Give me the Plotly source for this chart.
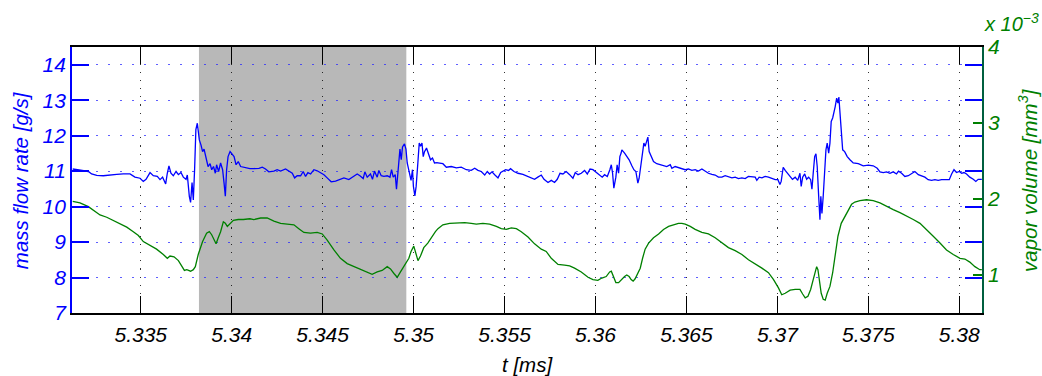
import plotly.graph_objects as go

# Time base of the mass flow signal [ms]
t_flow = [
    5.33126, 5.33148, 5.33184, 5.33212, 5.33230, 5.33258, 5.33294, 5.33331, 5.33368, 5.33404,
    5.33441, 5.33468, 5.33496, 5.33514, 5.33529, 5.33551, 5.33569, 5.33591, 5.33606, 5.33620,
    5.33637, 5.33646, 5.33655, 5.33666, 5.33679, 5.33694, 5.33707, 5.33721, 5.33734, 5.33749,
    5.33756, 5.33767, 5.33774, 5.33782, 5.33789, 5.33796, 5.33803, 5.33811, 5.33822, 5.33831,
    5.33840, 5.33848, 5.33859, 5.33870, 5.33881, 5.33890, 5.33900, 5.33910, 5.33917, 5.33928,
    5.33939, 5.33950, 5.33958, 5.33965, 5.33972, 5.33980, 5.33991, 5.34002, 5.34013, 5.34024,
    5.34036, 5.34049, 5.34064, 5.34082, 5.34100,
    5.34122, 5.34150, 5.34168, 5.34186, 5.34204, 5.34232, 5.34250, 5.34269, 5.34296, 5.34314,
    5.34333, 5.34346, 5.34360, 5.34379, 5.34393, 5.34406, 5.34419, 5.34434, 5.34452, 5.34470,
    5.34489, 5.34507, 5.34525, 5.34547, 5.34571, 5.34595, 5.34617, 5.34644, 5.34663, 5.34675,
    5.34690, 5.34705, 5.34723, 5.34732, 5.34745, 5.34763, 5.34774, 5.34785, 5.34800, 5.34809,
    5.34822, 5.34837, 5.34855, 5.34870, 5.34879, 5.34888, 5.34899, 5.34906, 5.34914, 5.34925,
    5.34932, 5.34939, 5.34950, 5.34958, 5.34965, 5.34972, 5.34980, 5.34986, 5.34994, 5.34999,
    5.35007, 5.35014, 5.35024, 5.35031, 5.35038, 5.35046, 5.35053, 5.35060, 5.35071, 5.35082,
    5.35093, 5.35104, 5.35115, 5.35130,
    5.35134, 5.35161, 5.35180, 5.35207, 5.35235, 5.35262, 5.35290, 5.35317, 5.35336, 5.35354,
    5.35372, 5.35391, 5.35405, 5.35418, 5.35431, 5.35446, 5.35464, 5.35479, 5.35491, 5.35506,
    5.35522, 5.35533, 5.35552, 5.35574, 5.35601, 5.35620, 5.35638, 5.35665, 5.35683, 5.35702,
    5.35717, 5.35739, 5.35757, 5.35775, 5.35790, 5.35805, 5.35821, 5.35839, 5.35858, 5.35876,
    5.35889, 5.35904, 5.35922, 5.35940, 5.35955, 5.35970, 5.35986, 5.36004, 5.36023, 5.36037,
    5.36050, 5.36065, 5.36079, 5.36087, 5.36094, 5.36101, 5.36112, 5.36119, 5.36127, 5.36134,
    5.36141,
    5.36145, 5.36160, 5.36172, 5.36185, 5.36200, 5.36211, 5.36222, 5.36233, 5.36240, 5.36251,
    5.36259, 5.36266, 5.36273, 5.36281, 5.36288, 5.36295, 5.36306, 5.36319, 5.36337, 5.36356,
    5.36374, 5.36392, 5.36411, 5.36420, 5.36438, 5.36456, 5.36475, 5.36493, 5.36511, 5.36530,
    5.36548, 5.36566, 5.36585, 5.36603, 5.36621, 5.36640, 5.36658, 5.36676, 5.36695, 5.36713,
    5.36731, 5.36750, 5.36768, 5.36786, 5.36805, 5.36823, 5.36841, 5.36860, 5.36878, 5.36887,
    5.36900, 5.36915, 5.36933, 5.36951, 5.36970, 5.36988, 5.37003, 5.37014, 5.37021, 5.37032,
    5.37043, 5.37057, 5.37070, 5.37083, 5.37098, 5.37112,
    5.37124, 5.37131, 5.37139, 5.37150, 5.37161, 5.37172, 5.37183, 5.37190, 5.37197, 5.37205,
    5.37212, 5.37219, 5.37227, 5.37234, 5.37239, 5.37245, 5.37252, 5.37260, 5.37267, 5.37274,
    5.37282, 5.37289, 5.37296, 5.37304, 5.37311, 5.37318, 5.37326, 5.37333, 5.37338, 5.37344,
    5.37351, 5.37359, 5.37370, 5.37384, 5.37399, 5.37417, 5.37445, 5.37472, 5.37500, 5.37527,
    5.37549, 5.37564, 5.37582, 5.37600, 5.37619, 5.37637, 5.37655, 5.37666, 5.37683, 5.37701,
    5.37720, 5.37738, 5.37756, 5.37775, 5.37793, 5.37811, 5.37829, 5.37848, 5.37866, 5.37884,
    5.37903, 5.37930, 5.37945, 5.37958, 5.37971, 5.37985, 5.38000, 5.38013, 5.38026, 5.38040,
    5.38058, 5.38077, 5.38091, 5.38104, 5.38117, 5.38124,
]

# Mass flow rate [g/s]
mass_flow = [
    11.06, 11.04, 11.00, 10.99, 10.92, 10.88, 10.87, 10.90, 10.91, 10.92,
    10.92, 10.83, 10.80, 10.71, 10.77, 10.96, 10.87, 10.85, 10.76, 10.83,
    10.64, 10.94, 11.15, 10.94, 10.87, 10.99, 10.90, 10.96, 10.83, 10.77,
    10.89, 10.29, 10.12, 10.68, 10.19, 11.04, 12.17, 12.35, 11.88, 11.74,
    11.55, 11.62, 11.32, 11.13, 11.21, 11.04, 11.13, 10.94, 11.18, 10.99,
    11.23, 11.04, 10.66, 10.29, 11.04, 11.41, 11.55, 11.49, 11.41, 11.18,
    11.27, 11.13, 11.11, 11.08, 11.07,
    11.07, 11.08, 11.11, 11.06, 10.98, 11.00, 11.04, 11.00, 11.06, 11.00,
    10.94, 10.81, 10.87, 10.87, 10.99, 10.85, 10.96, 10.92, 11.04, 11.01,
    10.96, 10.90, 10.81, 10.70, 10.72, 10.77, 10.81, 10.76, 10.83, 10.87,
    10.92, 10.87, 10.79, 10.98, 10.83, 10.92, 10.77, 11.00, 10.83, 11.02,
    10.87, 10.85, 10.87, 10.83, 11.04, 10.83, 10.90, 10.49, 10.99, 11.62,
    11.32, 11.68, 11.77, 11.62, 11.23, 11.08, 10.85, 10.74, 11.04, 10.57,
    10.30, 10.57, 11.27, 11.79, 11.70, 11.79, 11.41, 11.55, 11.65, 11.46,
    11.32, 11.37, 11.23, 11.24,
    11.23, 11.21, 11.11, 11.13, 11.09, 11.11, 11.04, 11.02, 11.08, 11.02,
    10.99, 10.89, 10.99, 10.92, 10.98, 10.90, 10.81, 10.96, 10.99, 11.04,
    11.02, 11.07, 10.99, 10.94, 10.91, 10.87, 10.83, 10.77, 10.83, 10.89,
    10.77, 10.68, 10.74, 10.68, 10.77, 10.94, 10.92, 10.99, 10.90, 10.80,
    10.96, 10.90, 10.94, 11.02, 10.92, 11.06, 11.04, 10.96, 10.87, 10.83,
    10.90, 10.85, 11.04, 11.18, 10.94, 10.52, 10.83, 11.18, 10.94, 11.41,
    11.51,
    11.60, 11.51, 11.41, 11.32, 11.15, 11.04, 10.99, 10.66, 10.80, 11.23,
    11.51, 11.79, 11.70, 11.81, 11.96, 11.55, 11.41, 11.27, 11.21, 11.18,
    11.15, 11.13, 11.18, 11.08, 11.13, 11.10, 11.08, 11.04, 11.06, 11.02,
    11.04, 11.00, 11.06, 10.99, 10.94, 10.91, 10.89, 10.83, 10.83, 10.87,
    10.83, 10.81, 10.83, 10.79, 10.81, 10.79, 10.85, 10.83, 10.83, 10.74,
    10.83, 10.81, 10.85, 10.83, 10.79, 10.76, 10.76, 10.62, 10.71, 11.11,
    11.02, 10.92, 10.83, 10.77, 10.83, 10.74,
    10.94, 10.57, 10.83, 10.92, 10.77, 10.83, 10.76, 10.49, 10.94, 11.41,
    11.49, 11.13, 10.30, 9.63, 10.29, 9.81, 10.29, 11.13, 11.60, 11.79,
    11.51, 11.79, 12.40, 12.50, 12.64, 12.82, 13.06, 12.92, 13.09, 12.64,
    12.17, 11.60, 11.55, 11.41, 11.32, 11.23, 11.21, 11.15, 11.17, 11.15,
    11.08, 10.98, 10.96, 10.98, 10.94, 10.98, 10.92, 11.00, 10.94, 10.85,
    10.87, 10.92, 10.99, 10.90, 10.87, 10.83, 10.76, 10.74, 10.76, 10.74,
    10.76, 10.77, 10.76, 10.92, 11.04, 10.96, 10.99, 10.94, 10.96, 10.92,
    10.83, 10.77, 10.71, 10.77, 10.76, 10.77,
]

# Time base of the vapor volume signal [ms]
t_vapor = [
    5.33126, 5.33166, 5.33212, 5.33248, 5.33276, 5.33313, 5.33349, 5.33386, 5.33423, 5.33459,
    5.33487, 5.33514, 5.33551, 5.33587, 5.33624, 5.33646, 5.33661, 5.33683, 5.33707, 5.33725,
    5.33740, 5.33753, 5.33763, 5.33774, 5.33789, 5.33800, 5.33816, 5.33840, 5.33862, 5.33877,
    5.33890, 5.33903, 5.33914, 5.33926, 5.33939, 5.33954, 5.33965, 5.33976, 5.33991, 5.34009,
    5.34036, 5.34064, 5.34100,
    5.34122, 5.34159, 5.34195, 5.34232, 5.34269, 5.34305, 5.34342, 5.34369, 5.34397, 5.34433,
    5.34470, 5.34498, 5.34525, 5.34562, 5.34598, 5.34635, 5.34672, 5.34708, 5.34745, 5.34772,
    5.34800, 5.34827, 5.34855, 5.34873, 5.34892, 5.34910, 5.34928, 5.34956, 5.34974, 5.34986,
    5.35001, 5.35012, 5.35024, 5.35038, 5.35056, 5.35078, 5.35102, 5.35120,
    5.35134, 5.35161, 5.35198, 5.35244, 5.35281, 5.35317, 5.35345, 5.35381, 5.35418, 5.35455,
    5.35482, 5.35510, 5.35537, 5.35565, 5.35592, 5.35629, 5.35665, 5.35702, 5.35729, 5.35757,
    5.35794, 5.35830, 5.35858, 5.35885, 5.35922, 5.35959, 5.35986, 5.36013, 5.36035, 5.36059,
    5.36078, 5.36087, 5.36098, 5.36112, 5.36127, 5.36141,
    5.36160, 5.36172, 5.36185, 5.36196, 5.36207, 5.36218, 5.36233, 5.36246, 5.36259, 5.36273,
    5.36292, 5.36319, 5.36347, 5.36374, 5.36402, 5.36429, 5.36456, 5.36475, 5.36493, 5.36521,
    5.36548, 5.36585, 5.36621, 5.36658, 5.36695, 5.36731, 5.36768, 5.36805, 5.36841, 5.36878,
    5.36915, 5.36951, 5.36979, 5.37006, 5.37024, 5.37043, 5.37070, 5.37098,
    5.37124, 5.37139, 5.37153, 5.37168, 5.37183, 5.37197, 5.37208, 5.37216, 5.37223, 5.37230,
    5.37241, 5.37252, 5.37263, 5.37274, 5.37289, 5.37304, 5.37318, 5.37333, 5.37351, 5.37370,
    5.37390, 5.37408, 5.37426, 5.37454, 5.37490, 5.37527, 5.37564, 5.37600, 5.37637, 5.37674,
    5.37710, 5.37747, 5.37784, 5.37820, 5.37857, 5.37894, 5.37930, 5.37967, 5.38004, 5.38031,
    5.38058, 5.38086, 5.38113, 5.38124,
]

# Vapor volume [10^-3 mm^3]
vapor_volume = [
    1.97, 1.95, 1.90, 1.84, 1.79, 1.76, 1.72, 1.68, 1.63, 1.57,
    1.52, 1.44, 1.39, 1.34, 1.27, 1.22, 1.25, 1.24, 1.19, 1.11,
    1.06, 1.07, 1.06, 1.05, 1.07, 1.11, 1.27, 1.44, 1.55, 1.57,
    1.53, 1.46, 1.41, 1.49, 1.57, 1.70, 1.68, 1.64, 1.68, 1.72,
    1.73, 1.73, 1.74,
    1.73, 1.75, 1.75, 1.71, 1.68, 1.67, 1.66, 1.61, 1.56, 1.55,
    1.56, 1.54, 1.46, 1.33, 1.22, 1.15, 1.11, 1.07, 1.03, 1.01,
    1.04, 1.06, 1.11, 1.08, 1.02, 0.97, 1.04, 1.14, 1.22, 1.31,
    1.38, 1.29, 1.19, 1.25, 1.36, 1.42, 1.51, 1.57,
    1.61, 1.66, 1.68, 1.69, 1.69, 1.68, 1.67, 1.68, 1.67, 1.64,
    1.61, 1.60, 1.62, 1.61, 1.57, 1.50, 1.41, 1.34, 1.31, 1.22,
    1.14, 1.13, 1.12, 1.09, 1.04, 0.97, 0.94, 0.93, 0.96, 0.98,
    1.04, 1.05, 0.98, 0.90, 0.90, 0.94,
    0.98, 1.00, 0.98, 0.94, 0.92, 0.95, 1.03, 1.09, 1.22, 1.34,
    1.42, 1.49, 1.54, 1.60, 1.64, 1.66, 1.68, 1.68, 1.67, 1.64,
    1.60, 1.56, 1.54, 1.49, 1.42, 1.36, 1.32, 1.27, 1.20, 1.15,
    1.09, 1.03, 0.94, 0.83, 0.74, 0.76, 0.80, 0.81,
    0.81, 0.75, 0.70, 0.72, 0.81, 0.94, 1.05, 1.11, 1.07, 0.94,
    0.76, 0.68, 0.67, 0.76, 0.85, 1.03, 1.29, 1.51, 1.68, 1.77,
    1.86, 1.93, 1.96, 1.98, 1.99, 1.98, 1.95, 1.90, 1.86, 1.82,
    1.77, 1.73, 1.68, 1.60, 1.51, 1.42, 1.33, 1.27, 1.22, 1.21,
    1.17, 1.11, 1.07, 1.07,
]

# Highlighted interval [ms]
highlight = [5.3382, 5.3496]

# Axis settings
t_range = [5.33122, 5.38125]
t_ticks = [5.335, 5.34, 5.345, 5.35, 5.355, 5.36, 5.365, 5.37, 5.375, 5.38]
t_ticktext = ["5.335", "5.34", "5.345", "5.35", "5.355", "5.36", "5.365", "5.37", "5.375", "5.38"]
flow_range = [7, 14.5]
flow_ticks = [7, 8, 9, 10, 11, 12, 13, 14]
vapor_range = [0.5, 4]
vapor_ticks = [1, 2, 3, 4]

BLUE = "#0000ff"
GREEN = "#008000"
FONT = "Liberation Sans, Arial, Helvetica, sans-serif"
TICK_SIZE = 21

fig = go.Figure()
fig.add_trace(go.Scatter(x=t_flow, y=mass_flow, mode="lines",
                         line=dict(color=BLUE, width=1.3), yaxis="y"))
fig.add_trace(go.Scatter(x=t_vapor, y=vapor_volume, mode="lines",
                         line=dict(color=GREEN, width=1.3), yaxis="y2"))

fig.add_vrect(x0=highlight[0], x1=highlight[1], fillcolor="#b8b8b8",
              opacity=1, line_width=0, layer="below")

fig.update_layout(
    width=1042, height=376,
    margin=dict(l=72, r=60, t=47, b=63),
    paper_bgcolor="white", plot_bgcolor="white",
    showlegend=False,
    font=dict(family=FONT),
    xaxis=dict(
        range=t_range, tickvals=t_ticks, ticktext=t_ticktext,
        ticks="inside", ticklen=17, tickwidth=1.2, tickcolor="black",
        showline=True, linecolor="black", linewidth=1.5, mirror="ticks",
        showgrid=True, gridcolor="rgba(0,0,0,0.8)", gridwidth=1, griddash="1.2px,7px",
        zeroline=False, ticklabelstandoff=2,
        tickfont=dict(family=FONT, size=TICK_SIZE, color="black", style="italic"),
    ),
    yaxis=dict(
        range=flow_range, tickvals=flow_ticks,
        ticks="inside", ticklen=17, tickwidth=1.5, tickcolor=BLUE,
        showline=True, linecolor=BLUE, linewidth=1.8, mirror="ticks",
        showgrid=True, gridcolor="rgba(40,40,255,0.75)", gridwidth=1.3, griddash="2px,10px",
        zeroline=False,
        tickfont=dict(family=FONT, size=TICK_SIZE, color=BLUE, style="italic"),
    ),
    yaxis2=dict(
        range=vapor_range, tickvals=vapor_ticks, overlaying="y", side="right",
        ticks="inside", ticklen=9, tickwidth=1.5, tickcolor=GREEN,
        showline=True, linecolor="#005f3f", linewidth=1.8,
        showgrid=False, zeroline=False,
        tickfont=dict(family=FONT, size=TICK_SIZE, color=GREEN, style="italic"),
    ),
    annotations=[
        dict(text="<i>mass flow rate [g/s]</i>", xref="paper", yref="paper",
             x=-0.057, y=0.5, xanchor="center", yanchor="middle", textangle=-90,
             showarrow=False, font=dict(family=FONT, size=20.5, color=BLUE)),
        dict(text="<i>vapor volume [mm<sup>3</sup>]</i>", xref="paper", yref="paper",
             x=1.0505, y=0.5, xanchor="center", yanchor="middle", textangle=-90,
             showarrow=False, font=dict(family=FONT, size=20.5, color=GREEN)),
        dict(text="<i>t [ms]</i>", xref="paper", yref="paper",
             x=0.5, y=-0.192, xanchor="center", yanchor="middle",
             showarrow=False, font=dict(family=FONT, size=20.5, color="black")),
        dict(text="<i>x 10<sup>−3</sup></i>", xref="paper", yref="paper",
             x=1.0, y=1.0, xanchor="left", yanchor="bottom", yshift=10, showarrow=False,
             font=dict(family=FONT, size=20, color=GREEN)),
    ],
)

fig.write_html("out.html")
